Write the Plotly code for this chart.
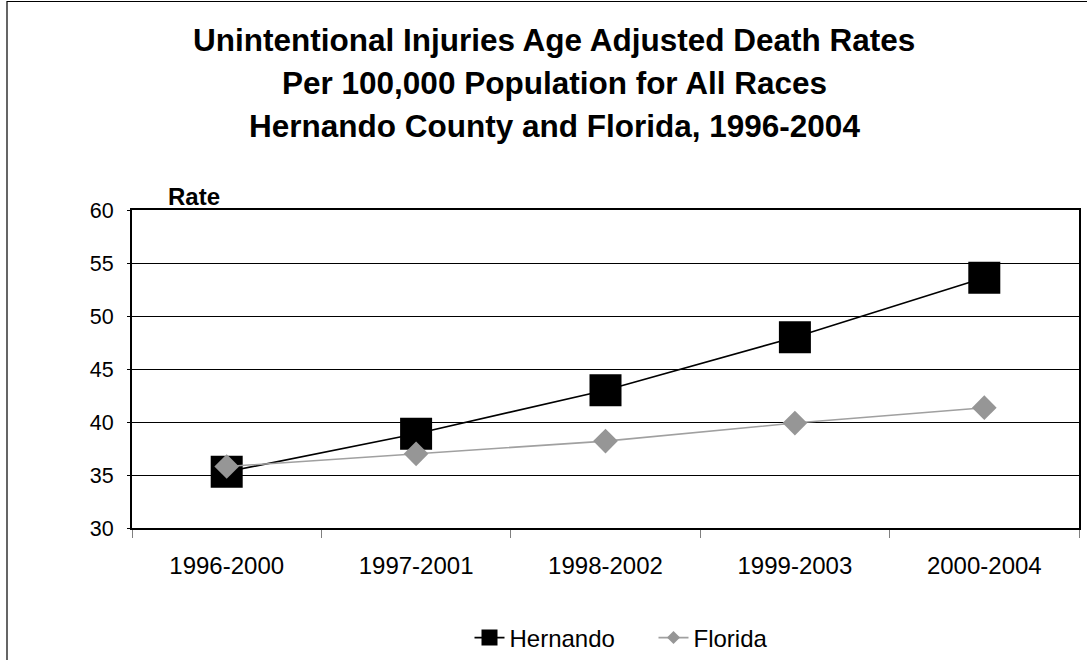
import plotly.graph_objects as go

categories = ["1996-2000", "1997-2001", "1998-2002", "1999-2003", "2000-2004"]
hernando = [35.3, 38.9, 43.0, 48.0, 53.6]
florida = [35.8, 37.0, 38.2, 39.9, 41.35]
y_ticks = [30, 35, 40, 45, 50, 55, 60]
title_lines = [
    "Unintentional Injuries Age Adjusted Death Rates",
    "Per 100,000 Population for All Races",
    "Hernando County and Florida, 1996-2004",
]

FONT = "Liberation Sans, Arial, sans-serif"
W, H = 1087, 660
L, R, T, B = 132, 8, 210, 132
PW, PH = W - L - R, H - T - B

fig = go.Figure()
fig.add_trace(go.Scatter(
    x=categories, y=hernando, mode="lines+markers", name="Hernando",
    line=dict(color="#000000", width=1.6),
    marker=dict(symbol="square", size=32, color="#000000"),
    showlegend=False, cliponaxis=False,
))
fig.add_trace(go.Scatter(
    x=categories, y=florida, mode="lines+markers", name="Florida",
    line=dict(color="#a0a0a0", width=1.6),
    marker=dict(symbol="diamond", size=19, color="#969696"),
    showlegend=False, cliponaxis=False,
))
# legend entries
fig.add_trace(go.Scatter(
    x=[None], y=[None], mode="lines+markers", name="Hernando",
    line=dict(color="#000000", width=1.6),
    marker=dict(symbol="square", size=23, color="#000000"),
))
fig.add_trace(go.Scatter(
    x=[None], y=[None], mode="lines+markers", name="Florida",
    line=dict(color="#a0a0a0", width=1.6),
    marker=dict(symbol="diamond", size=10, color="#969696"),
))

def px_x(p):
    return (p - L) / PW

def px_y(p):
    return (H - B - p) / PH

annotations = []
centers = [40, 83, 126]
for line, cy in zip(title_lines, centers):
    annotations.append(dict(
        text="<b>%s</b>" % line, xref="paper", yref="paper",
        x=px_x(554), y=px_y(cy), xanchor="center", yanchor="middle",
        showarrow=False, font=dict(family=FONT, size=31.5, color="#000000"),
    ))
annotations.append(dict(
    text="<b>Rate</b>", xref="paper", yref="paper",
    x=px_x(194), y=px_y(196), xanchor="center", yanchor="middle",
    showarrow=False, font=dict(family=FONT, size=24, color="#000000"),
))

fig.update_layout(
    width=W, height=H,
    margin=dict(l=L, r=R, t=T, b=B, pad=0, autoexpand=False),
    paper_bgcolor="#ffffff", plot_bgcolor="#ffffff",
    font=dict(family=FONT, color="#000000"),
    annotations=annotations,
    shapes=[dict(type="rect", xref="paper", yref="paper",
                 x0=px_x(7), x1=px_x(1200), y0=px_y(800), y1=px_y(1.5),
                 line=dict(color="#000000", width=1.2), layer="below")],
    legend=dict(orientation="h", x=px_x(653.5), xanchor="center", y=px_y(638), yanchor="middle",
                font=dict(family=FONT, size=24, color="#000000"),
                bgcolor="rgba(0,0,0,0)", itemsizing="trace", entrywidth=139),
    xaxis=dict(
        type="category", categoryorder="array", categoryarray=categories,
        range=[-0.5, len(categories) - 0.5],
        tickson="boundaries", ticks="outside", ticklen=8, tickwidth=1, tickcolor="#808080",
        showline=True, linecolor="#000000", linewidth=2, mirror=True,
        showgrid=False, zeroline=False,
        tickfont=dict(family=FONT, size=24, color="#000000"),
        ticklabelstandoff=15,
    ),
    yaxis=dict(
        range=[30, 60], tickvals=y_ticks, ticktext=[str(v) for v in y_ticks],
        ticks="outside", ticklen=3, tickwidth=1, tickcolor="#000000",
        showline=True, linecolor="#000000", linewidth=2, mirror=True,
        showgrid=True, gridcolor="#000000", gridwidth=1, zeroline=False,
        tickfont=dict(family=FONT, size=21.5, color="#000000"),
        ticklabelstandoff=9,
    ),
)

fig.write_html(
    "out.html",
    config={"displayModeBar": False},
    post_script="document.body.style.margin='0';document.body.style.overflow='hidden';",
)
